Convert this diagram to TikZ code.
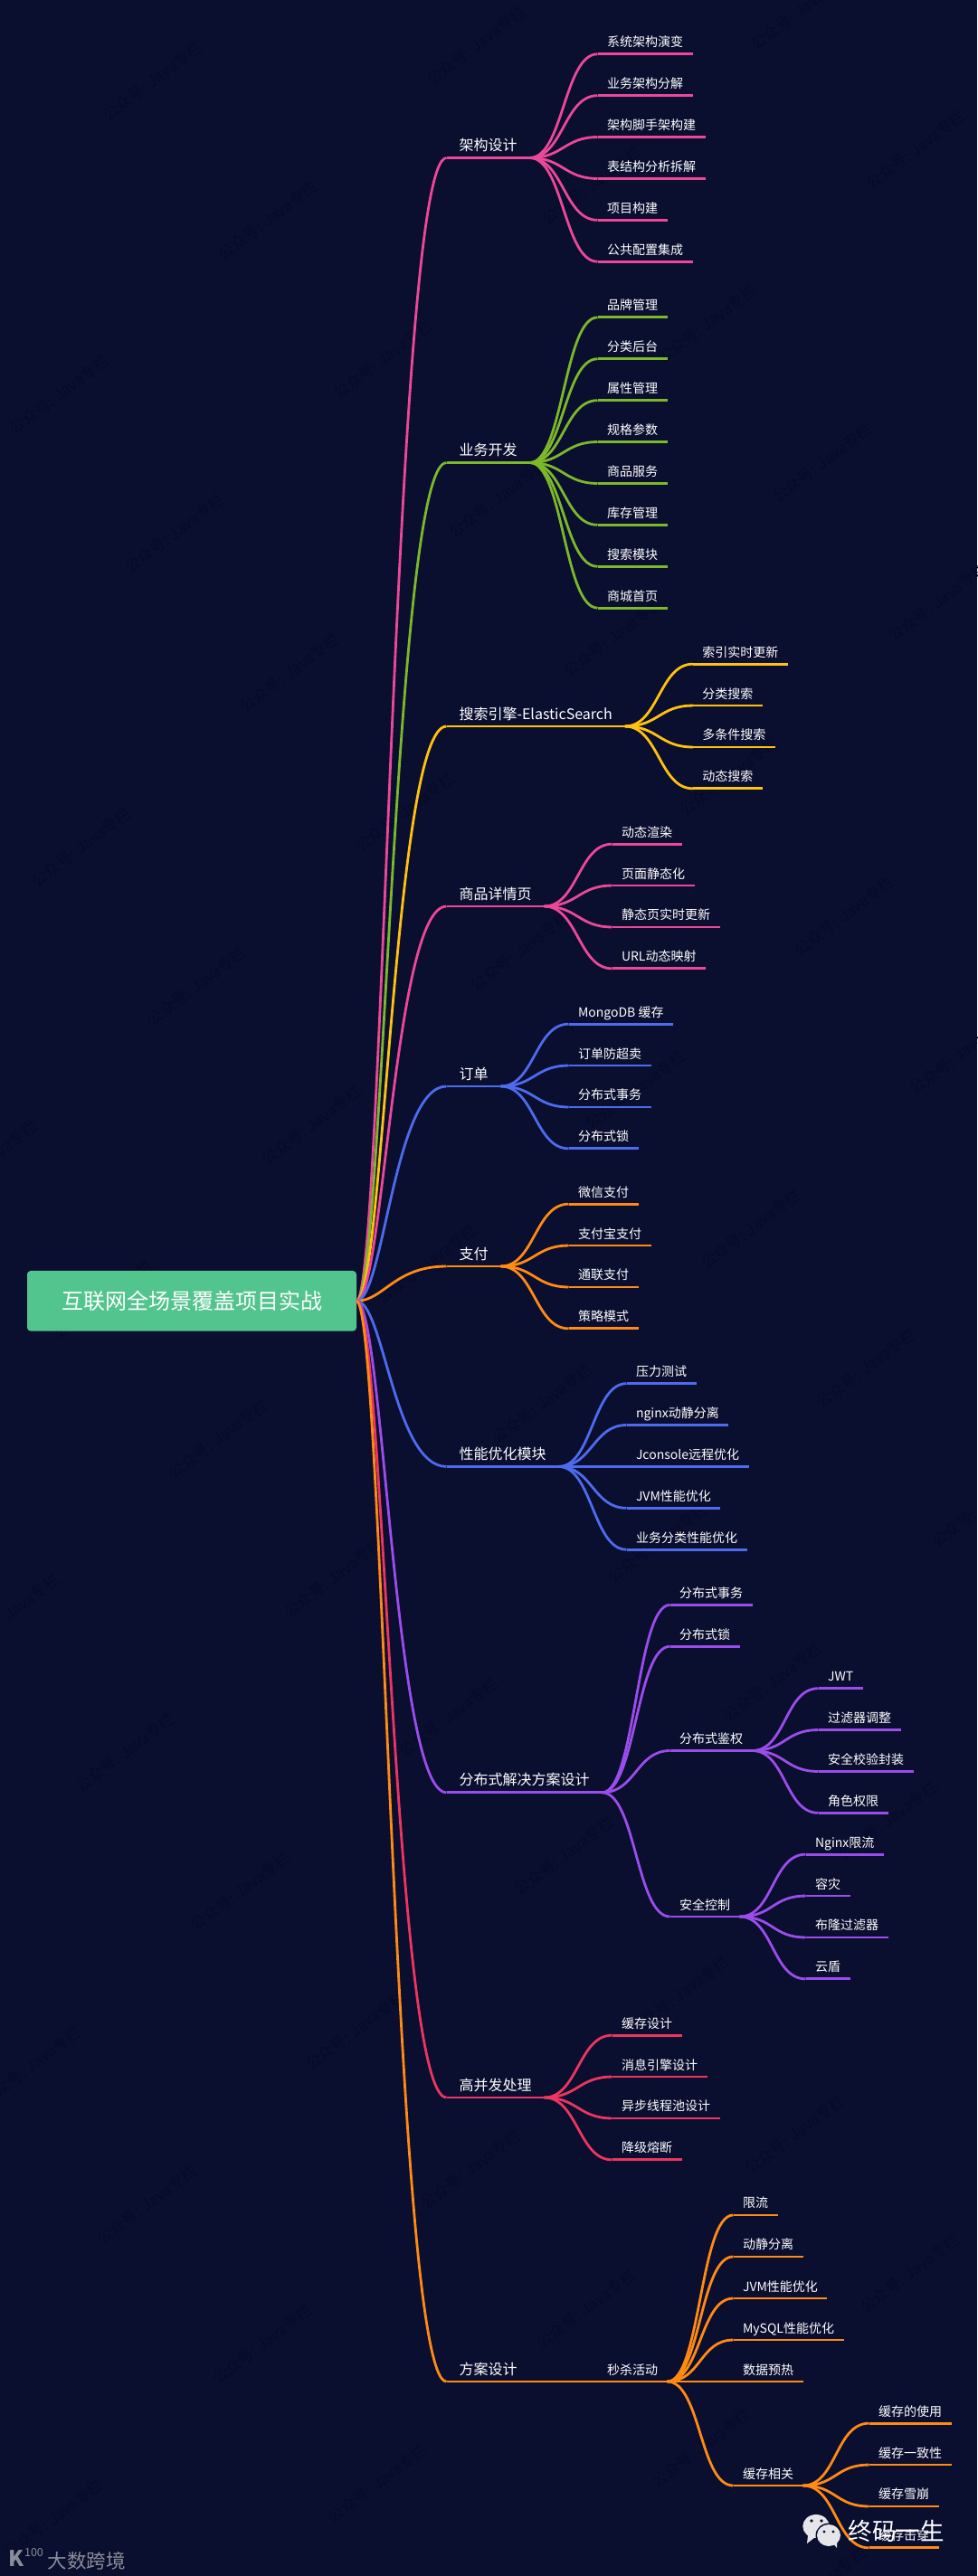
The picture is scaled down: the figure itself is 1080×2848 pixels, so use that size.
\documentclass[tikz,border=0pt]{standalone}
\usepackage{fontspec}
\setmainfont{Noto Sans CJK SC}
\usetikzlibrary{positioning}
\definecolor{bgcol}{HTML}{0A0E2F}
\definecolor{wmcol}{HTML}{070B28}
\definecolor{rootcol}{HTML}{52C48D}
\definecolor{pinkcol}{HTML}{EC4899}
\definecolor{greencol}{HTML}{7CB82A}
\definecolor{yellowcol}{HTML}{FFC20E}
\definecolor{bluecol}{HTML}{4F6BED}
\definecolor{orangecol}{HTML}{FF8A14}
\definecolor{purplecol}{HTML}{9B4DEB}
\definecolor{redcol}{HTML}{EC3560}
\definecolor{logocol}{HTML}{8A8C99}
\definecolor{chatcol}{HTML}{E6E6EA}
\newcommand{\trunkto}[1]{\draw (root.east) .. controls +(30,0) and +(-58,0) .. (#1.south west);}
\tikzset{
  topic/.style={text=white,outer sep=0pt,inner ysep=5pt,text depth=3pt,inner xsep=14pt,font=\fontsize{16}{18}\selectfont,
    append after command={(\tikzlastnode.south west) edge (\tikzlastnode.south east)}},
  leaf/.style={topic,inner xsep=10.5pt,font=\fontsize{14}{16}\selectfont},
  branch/.style={every edge/.style={draw,out=0,in=180,out distance=37pt,in distance=37pt}},
  wmark/.style={text=wmcol,rotate=37,font=\fontsize{17}{19}\selectfont}
}
\begin{document}
\begin{tikzpicture}[x=1pt,y=-1pt,line width=2.8pt]
   \useasboundingbox (0,0) rectangle (1080,2848);
   \fill[bgcol] (0,0) rectangle (1080,2848);
   \begin{scope}
   \clip (0,0) rectangle (1080,2848);
   \foreach \i in {-2,...,20}
     \foreach \j in {-8,...,3} {
       \pgfmathsetmacro\wmx{168.7+\i*127.4+\j*358}
       \pgfmathsetmacro\wmy{89.5+\i*153.8-\j*39}
       \ifdim\wmx pt>-20pt \ifdim\wmx pt<1100pt \ifdim\wmy pt>-20pt \ifdim\wmy pt<2868pt
         \node[wmark] (wm\i\j) at (\wmx,\wmy) {公众号: Java专栏};
       \fi\fi\fi\fi
     }
   \end{scope}

   \node[fill=rootcol,rounded corners=4pt,text=white,minimum width=364pt,minimum height=66.7pt,outer sep=0pt,
     font=\fontsize{24}{28}\selectfont] (root) at (212,1438.3) {互联网全场景覆盖项目实战};

   \begin{scope}[color=pinkcol]
   \node[topic] (arch) [above right=1263.8pt and 99.5pt of root.east] {架构设计};
   \trunkto{arch}
   \node[leaf] (arch1) [above right=114.75pt and 75pt of arch.south east] {系统架构演变};
   \node[leaf] (arch2) [above right=68.85pt and 75pt of arch.south east] {业务架构分解};
   \node[leaf] (arch3) [above right=22.95pt and 75pt of arch.south east] {架构脚手架构建};
   \node[leaf] (arch4) [above right=-22.95pt and 75pt of arch.south east] {表结构分析拆解};
   \node[leaf] (arch5) [above right=-68.85pt and 75pt of arch.south east] {项目构建};
   \node[leaf] (arch6) [above right=-114.75pt and 75pt of arch.south east] {公共配置集成};
   \path[branch] (arch.south east) edge (arch1.south west)
        edge (arch2.south west) edge (arch3.south west)
        edge (arch4.south west) edge (arch5.south west)
        edge (arch6.south west);
   \end{scope}

   \begin{scope}[color=greencol]
   \node[topic] (biz) [above right=926.8pt and 99.5pt of root.east] {业务开发};
   \trunkto{biz}
   \node[leaf] (biz1) [above right=160.65pt and 75pt of biz.south east] {品牌管理};
   \node[leaf] (biz2) [above right=114.75pt and 75pt of biz.south east] {分类后台};
   \node[leaf] (biz3) [above right=68.85pt and 75pt of biz.south east] {属性管理};
   \node[leaf] (biz4) [above right=22.95pt and 75pt of biz.south east] {规格参数};
   \node[leaf] (biz5) [above right=-22.95pt and 75pt of biz.south east] {商品服务};
   \node[leaf] (biz6) [above right=-68.85pt and 75pt of biz.south east] {库存管理};
   \node[leaf] (biz7) [above right=-114.75pt and 75pt of biz.south east] {搜索模块};
   \node[leaf] (biz8) [above right=-160.65pt and 75pt of biz.south east] {商城首页};
   \path[branch] (biz.south east) edge (biz1.south west)
        edge (biz2.south west) edge (biz3.south west)
        edge (biz4.south west) edge (biz5.south west)
        edge (biz6.south west) edge (biz7.south west)
        edge (biz8.south west);
   \end{scope}

   \begin{scope}[color=yellowcol]
   \node[topic] (search) [above right=635.3pt and 99.5pt of root.east] {搜索引擎-ElasticSearch};
   \trunkto{search}
   \node[leaf] (search1) [above right=68.85pt and 75pt of search.south east] {索引实时更新};
   \node[leaf] (search2) [above right=22.95pt and 75pt of search.south east] {分类搜索};
   \node[leaf] (search3) [above right=-22.95pt and 75pt of search.south east] {多条件搜索};
   \node[leaf] (search4) [above right=-68.85pt and 75pt of search.south east] {动态搜索};
   \path[branch] (search.south east) edge (search1.south west)
        edge (search2.south west) edge (search3.south west)
        edge (search4.south west);
   \end{scope}

   \begin{scope}[color=pinkcol]
   \node[topic] (detail) [above right=436.3pt and 99.5pt of root.east] {商品详情页};
   \trunkto{detail}
   \node[leaf] (detail1) [above right=68.85pt and 75pt of detail.south east] {动态渲染};
   \node[leaf] (detail2) [above right=22.95pt and 75pt of detail.south east] {页面静态化};
   \node[leaf] (detail3) [above right=-22.95pt and 75pt of detail.south east] {静态页实时更新};
   \node[leaf] (detail4) [above right=-68.85pt and 75pt of detail.south east] {URL动态映射};
   \path[branch] (detail.south east) edge (detail1.south west)
        edge (detail2.south west) edge (detail3.south west)
        edge (detail4.south west);
   \end{scope}

   \begin{scope}[color=bluecol]
   \node[topic] (order) [above right=237.3pt and 99.5pt of root.east] {订单};
   \trunkto{order}
   \node[leaf] (order1) [above right=68.85pt and 75pt of order.south east] {MongoDB 缓存};
   \node[leaf] (order2) [above right=22.95pt and 75pt of order.south east] {订单防超卖};
   \node[leaf] (order3) [above right=-22.95pt and 75pt of order.south east] {分布式事务};
   \node[leaf] (order4) [above right=-68.85pt and 75pt of order.south east] {分布式锁};
   \path[branch] (order.south east) edge (order1.south west)
        edge (order2.south west) edge (order3.south west)
        edge (order4.south west);
   \end{scope}

   \begin{scope}[color=orangecol]
   \node[topic] (pay) [above right=38.3pt and 99.5pt of root.east] {支付};
   \trunkto{pay}
   \node[leaf] (pay1) [above right=68.85pt and 75pt of pay.south east] {微信支付};
   \node[leaf] (pay2) [above right=22.95pt and 75pt of pay.south east] {支付宝支付};
   \node[leaf] (pay3) [above right=-22.95pt and 75pt of pay.south east] {通联支付};
   \node[leaf] (pay4) [above right=-68.85pt and 75pt of pay.south east] {策略模式};
   \path[branch] (pay.south east) edge (pay1.south west)
        edge (pay2.south west) edge (pay3.south west)
        edge (pay4.south west);
   \end{scope}

   \begin{scope}[color=bluecol]
   \node[topic] (perf) [above right=-183.1pt and 99.5pt of root.east] {性能优化模块};
   \trunkto{perf}
   \node[leaf] (perf1) [above right=91.8pt and 75pt of perf.south east] {压力测试};
   \node[leaf] (perf2) [above right=45.9pt and 75pt of perf.south east] {nginx动静分离};
   \node[leaf] (perf3) [above right=0pt and 75pt of perf.south east] {Jconsole远程优化};
   \node[leaf] (perf4) [above right=-45.9pt and 75pt of perf.south east] {JVM性能优化};
   \node[leaf] (perf5) [above right=-91.8pt and 75pt of perf.south east] {业务分类性能优化};
   \path[branch] (perf.south east) edge (perf1.south west)
        edge (perf2.south west) edge (perf3.south west)
        edge (perf4.south west) edge (perf5.south west);
   \end{scope}

   \begin{scope}[color=purplecol]
   \node[topic] (dist) [above right=-543.5pt and 99.5pt of root.east] {分布式解决方案设计};
   \trunkto{dist}
   \node[leaf] (dist1) [above right=207.5pt and 75pt of dist.south east] {分布式事务};
   \node[leaf] (dist2) [above right=161.6pt and 75pt of dist.south east] {分布式锁};
   \node[leaf] (auth) [above right=46.3pt and 75pt of dist.south east] {分布式鉴权};
   \node[leaf] (safe) [above right=-137.2pt and 75pt of dist.south east] {安全控制};
   \path[branch] (dist.south east) edge (dist1.south west)
        edge (dist2.south west) edge (auth.south west)
        edge (safe.south west);
   \node[leaf] (auth1) [above right=68.85pt and 73pt of auth.south east] {JWT};
   \node[leaf] (auth2) [above right=22.95pt and 73pt of auth.south east] {过滤器调整};
   \node[leaf] (auth3) [above right=-22.95pt and 73pt of auth.south east] {安全校验封装};
   \node[leaf] (auth4) [above right=-68.85pt and 73pt of auth.south east] {角色权限};
   \path[branch] (auth.south east) edge (auth1.south west)
        edge (auth2.south west) edge (auth3.south west)
        edge (auth4.south west);
   \node[leaf] (safe1) [above right=68.85pt and 73pt of safe.south east] {Nginx限流};
   \node[leaf] (safe2) [above right=22.95pt and 73pt of safe.south east] {容灾};
   \node[leaf] (safe3) [above right=-22.95pt and 73pt of safe.south east] {布隆过滤器};
   \node[leaf] (safe4) [above right=-68.85pt and 73pt of safe.south east] {云盾};
   \path[branch] (safe.south east) edge (safe1.south west)
        edge (safe2.south west) edge (safe3.south west)
        edge (safe4.south west);
   \end{scope}

   \begin{scope}[color=redcol]
   \node[topic] (high) [above right=-880.7pt and 99.5pt of root.east] {高并发处理};
   \trunkto{high}
   \node[leaf] (high1) [above right=68.85pt and 75pt of high.south east] {缓存设计};
   \node[leaf] (high2) [above right=22.95pt and 75pt of high.south east] {消息引擎设计};
   \node[leaf] (high3) [above right=-22.95pt and 75pt of high.south east] {异步线程池设计};
   \node[leaf] (high4) [above right=-68.85pt and 75pt of high.south east] {降级熔断};
   \path[branch] (high.south east) edge (high1.south west)
        edge (high2.south west) edge (high3.south west)
        edge (high4.south west);
   \end{scope}

   \begin{scope}[color=orangecol]
   \node[topic] (plan) [above right=-1194.7pt and 99.5pt of root.east] {方案设计};
   \trunkto{plan}
   \node[leaf] (kill) [above right=0pt and 75pt of plan.south east] {秒杀活动};
   \path[branch] (plan.south east) edge (kill.south west);
   \node[leaf] (kill1) [above right=184.1pt and 73pt of kill.south east] {限流};
   \node[leaf] (kill2) [above right=138.1pt and 73pt of kill.south east] {动静分离};
   \node[leaf] (kill3) [above right=92pt and 73pt of kill.south east] {JVM性能优化};
   \node[leaf] (kill4) [above right=46pt and 73pt of kill.south east] {MySQL性能优化};
   \node[leaf] (kill5) [above right=0pt and 73pt of kill.south east] {数据预热};
   \node[leaf] (cache) [above right=-115pt and 73pt of kill.south east] {缓存相关};
   \path[branch] (kill.south east) edge (kill1.south west)
        edge (kill2.south west) edge (kill3.south west)
        edge (kill4.south west) edge (kill5.south west)
        edge (cache.south west);
   \node[leaf] (cache1) [above right=68.85pt and 73pt of cache.south east] {缓存的使用};
   \node[leaf] (cache2) [above right=22.95pt and 73pt of cache.south east] {缓存一致性};
   \node[leaf] (cache3) [above right=-22.95pt and 73pt of cache.south east] {缓存雪崩};
   \node[leaf] (cache4) [above right=-68.85pt and 73pt of cache.south east] {缓存击穿};
   \path[branch] (cache.south east) edge (cache1.south west)
        edge (cache2.south west) edge (cache3.south west)
        edge (cache4.south west);
   \end{scope}

   % overlays
   \fill[chatcol] (902,2793) ellipse [x radius=14.7,y radius=13];
   \fill[chatcol] (893,2803) -- (892,2812) -- (901,2805) -- cycle;
   \fill[bgcol] (916,2803) ellipse [x radius=14.5,y radius=13.5];
   \fill[chatcol] (916,2803) ellipse [x radius=13,y radius=12];
   \fill[chatcol] (921,2812) -- (925,2817) -- (925,2809) -- cycle;
   \fill[bgcol] (897,2787) circle [radius=1.8] (908,2787) circle [radius=1.8]
     (911,2799) circle [radius=1.6] (921,2799) circle [radius=1.6];
   \node[text=white,inner sep=0pt,font=\fontsize{26.5}{30}\selectfont] (brand) at (990.5,2798) {终码一生};
   \node[text=logocol,inner sep=0pt,font=\fontsize{21.5}{24}\selectfont] (site) at (95.5,2831) {大数跨境};
   \node[text=logocol,inner sep=0pt,font=\bfseries\fontsize{24}{26}\selectfont] (logok) at (17.5,2829) {K};
   \node[text=logocol,inner sep=0pt,font=\fontsize{12.5}{14}\selectfont] (logon) at (37.5,2822) {100};
\end{tikzpicture}
\end{document}
